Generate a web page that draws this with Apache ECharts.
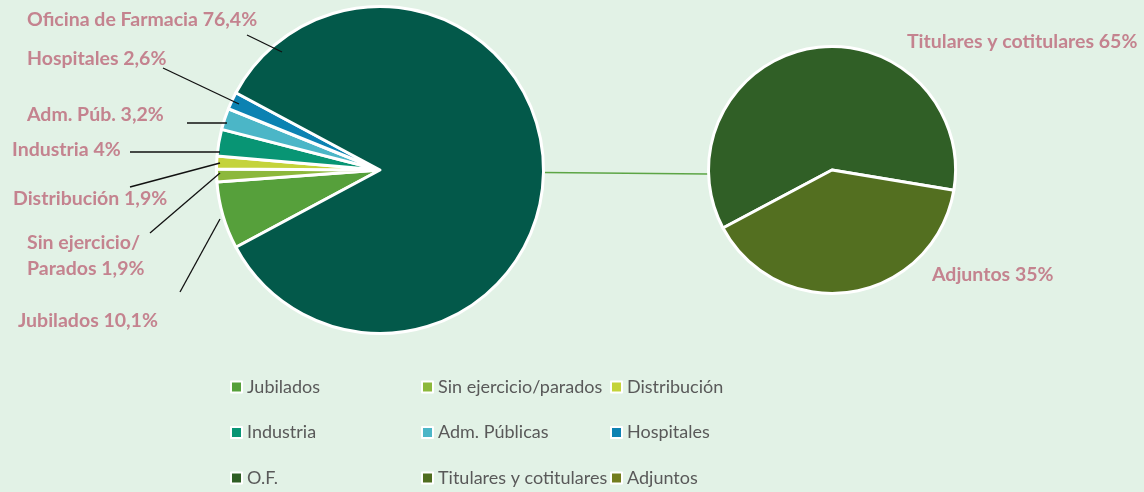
<!DOCTYPE html>
<html>
<head>
<meta charset="utf-8">
<script src="https://cdn.jsdelivr.net/npm/echarts@6/dist/echarts.min.js"></script>
<style>
  html, body { margin: 0; padding: 0; background: #e2f2e6; }
  #chart { width: 1144px; height: 492px; }
</style>
</head>
<body>
<div id="chart"></div>
<script>
// main pie (drawn shares; O.F. slice is the aggregate split into the second pie)
const mainNames = ['Jubilados', 'Sin ejercicio/parados', 'Distribución', 'Industria', 'Adm. Públicas', 'Hospitales', 'O.F.']
const mainValues = [10.1, 1.9, 1.9, 4, 3.2, 2.6, 127.6]
const mainLabels = ['Jubilados 10,1%', 'Sin ejercicio/\nParados 1,9%', 'Distribución 1,9%', 'Industria 4%', 'Adm. Púb. 3,2%', 'Hospitales 2,6%', 'Oficina de Farmacia 76,4%']
const mainColors = ['#56a03b', '#8cb83c', '#c4d33b', '#089574', '#4bb6c7', '#0c82b2', '#03594a']

// secondary pie
const subNames = ['Titulares y cotitulares', 'Adjuntos']
const subValues = [60.4, 39.6]
const subLabels = ['Titulares y cotitulares 65%', 'Adjuntos 35%']
const subColors = ['#305f26', '#536f20']

// legend icon colours (as in the original file, shifted on the last row)
const legendColors = {
  'O.F.': '#2f5e25',
  'Titulares y cotitulares': '#4f6d1f',
  'Adjuntos': '#737d1e'
}
const legendColumns = [
  ['Jubilados', 'Industria', 'O.F.'],
  ['Sin ejercicio/parados', 'Adm. Públicas', 'Titulares y cotitulares'],
  ['Distribución', 'Hospitales', 'Adjuntos']
]

// layout
const mainCenter = [380, 170], mainR = 163.5
const subCenter = [832, 170], subR = 123.5
const mainLabelPos = [[18, 321], [27, 256], [13, 199], [12, 150], [27, 115], [27, 59], [27, 20]]
const mainLeader = [
  [[180, 292], [220, 219]],
  [[150, 233], [220, 173]],
  [[130, 187], [220, 163]],
  [[130, 152], [220, 152]],
  [[187, 123], [227, 123]],
  [[163, 68], [239, 104]],
  [[247, 35], [282, 52]]
]
const subLabelPos = [[907, 42], [932, 275]]
const legendLeft = [230, 421, 610]

const labelText = {
  color: '#c4838f',
  fontFamily: 'Lato',
  fontWeight: 'bold',
  fontSize: 19.5,
  lineHeight: 26
}

const colorOf = name => {
  if (legendColors[name]) return legendColors[name]
  const i = mainNames.indexOf(name)
  return i >= 0 ? mainColors[i] : subColors[subNames.indexOf(name)]
}

const chart = echarts.init(document.getElementById('chart'))

const leaderLines = mainLeader.map(([a, b]) => ({
  type: 'line',
  z: 100,
  shape: { x1: a[0], y1: a[1], x2: b[0], y2: b[1] },
  style: { stroke: '#111', lineWidth: 1.3 }
}))

const option = {
  backgroundColor: '#e2f2e6',
  animation: false,
  legend: legendColumns.map((col, i) => ({
    orient: 'vertical',
    left: legendLeft[i],
    top: 378,
    padding: 0,
    itemWidth: 11,
    itemHeight: 11,
    itemGap: 27.5,
    selectedMode: false,
    icon: 'rect',
    textStyle: { color: '#595959', fontFamily: 'Lato', fontSize: 18, lineHeight: 18 },
    data: col.map(name => ({
      name,
      itemStyle: { color: colorOf(name), borderColor: '#ffffff', borderWidth: 2 }
    }))
  })),
  graphic: [{
    type: 'line',
    shape: {
      x1: mainCenter[0] + mainR,
      y1: mainCenter[1] + 2.5,
      x2: subCenter[0] - subR - 0.5,
      y2: subCenter[1] + 4
    },
    style: { stroke: '#5ca545', lineWidth: 1.5 }
  }, ...leaderLines],
  series: [
    {
      type: 'pie',
      center: mainCenter,
      radius: mainR,
      startAngle: 208.2,
      clockwise: true,
      avoidLabelOverlap: false,
      itemStyle: { borderColor: '#fff', borderWidth: 3 },
      label: {
        position: 'outside',
        ...labelText,
        formatter: p => mainLabels[p.dataIndex]
      },
      labelLine: { show: false },
      labelLayout: p => ({
        x: mainLabelPos[p.dataIndex][0],
        y: mainLabelPos[p.dataIndex][1],
        align: 'left',
        verticalAlign: 'middle'
      }),
      data: mainNames.map((name, i) => ({
        name,
        value: mainValues[i],
        itemStyle: { color: mainColors[i] }
      }))
    },
    {
      type: 'pie',
      center: subCenter,
      radius: subR,
      startAngle: 208,
      clockwise: true,
      avoidLabelOverlap: false,
      itemStyle: { borderColor: '#fff', borderWidth: 3 },
      label: {
        position: 'outside',
        ...labelText,
        formatter: p => subLabels[p.dataIndex]
      },
      labelLine: { show: false },
      labelLayout: p => ({
        x: subLabelPos[p.dataIndex][0],
        y: subLabelPos[p.dataIndex][1],
        align: 'left',
        verticalAlign: 'middle'
      }),
      data: subNames.map((name, i) => ({
        name,
        value: subValues[i],
        itemStyle: { color: subColors[i] }
      }))
    }
  ]
}

chart.setOption(option)
</script>
</body>
</html>
